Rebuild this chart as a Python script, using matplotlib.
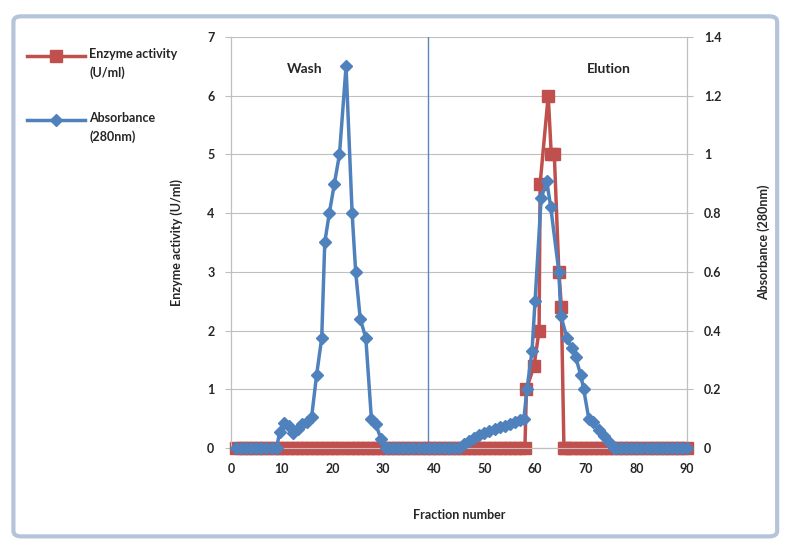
import numpy as np
from matplotlib import pyplot as plt
from matplotlib.patches import FancyBboxPatch
from matplotlib.lines import Line2D

# enzyme activity (U/ml), left axis
enz_frac = list(range(1, 59)) + [58.3, 59.8, 60.8, 61.0, 62.6, 63.2, 63.8, 64.7, 65.2, 65.7] + list(range(66, 91))
enz_act = [0] * 58 + [1.0, 1.4, 2.0, 4.5, 6.0, 5.0, 5.0, 3.0, 2.4, 0] + [0] * 25

# absorbance at 280 nm, right axis
abs_frac = (list(range(1, 10))
            + [9.6, 10.5, 11.4, 12.3, 13.2, 14.1, 15.0, 15.9, 16.9, 17.9, 18.5, 19.4, 20.4,
               21.4, 22.7, 23.9, 24.6, 25.5, 26.6, 27.7, 28.6, 29.6, 30.5]
            + list(range(31, 46))
            + [46, 47, 48, 49, 50, 51, 52, 53, 54, 55, 56, 57, 57.8, 58.4, 59.4, 60.0, 61.2,
               62.3, 63.1, 64.7, 65.1, 66.3, 67.2, 68.0, 69.0, 69.6, 70.6, 71.5, 72.6, 73.6,
               74.6, 75.6]
            + list(range(76, 91)))
abs_val = ([0] * 9
           + [0.055, 0.085, 0.075, 0.05, 0.065, 0.08, 0.09, 0.105, 0.25, 0.375, 0.7, 0.8, 0.9,
              1.0, 1.3, 0.8, 0.6, 0.44, 0.375, 0.1, 0.08, 0.03, 0.0]
           + [0] * 15
           + [0.012, 0.025, 0.035, 0.043, 0.05, 0.057, 0.064, 0.07, 0.076, 0.082, 0.088, 0.094,
              0.1, 0.2, 0.33, 0.5, 0.85, 0.91, 0.82, 0.6, 0.45, 0.375, 0.34, 0.31, 0.25, 0.2,
              0.1, 0.09, 0.06, 0.04, 0.02, 0.0]
           + [0] * 15)

left_ticks = [0, 1, 2, 3, 4, 5, 6, 7]
right_ticks = [0, 0.2, 0.4, 0.6, 0.8, 1, 1.2, 1.4]
x_ticks = [0, 10, 20, 30, 40, 50, 60, 70, 80, 90]
legend_labels = ['Enzyme activity\n(U/ml)', 'Absorbance\n(280nm)']

red = '#C0504D'
blue = '#4F81BD'
txt = '#262626'
plt.rcParams['font.family'] = ['Lato', 'DejaVu Sans']
plt.rcParams['font.weight'] = 'bold'
plt.rcParams['axes.labelweight'] = 'bold'

W, H = 789, 544
fig = plt.figure(figsize=(W / 100, H / 100), dpi=100)
fig.patches.append(FancyBboxPatch((0.017, 0.014), 0.968, 0.956, boxstyle='round,pad=0,rounding_size=0.01',
                                  transform=fig.transFigure, facecolor='none', edgecolor='#B4C4D9', lw=3))

ax = fig.add_axes([0.2928, 0.1765, 0.578, 0.7555])
ax2 = ax.twinx()

ax.plot(enz_frac, enz_act, color=red, lw=2.5, marker='s', ms=8.5, clip_on=False, zorder=3)
ax2.plot(abs_frac, abs_val, color=blue, lw=2.5, marker='D', ms=6, clip_on=False, zorder=3)
ax.axvline(38.9, color='#5B86B8', lw=1)

ax.set_xlim(0, 90)
ax.set_ylim(0, 7)
ax2.set_ylim(0, 1.4)
ax.set_xticks(x_ticks)
ax.set_yticks(left_ticks)
ax2.set_yticks(right_ticks)
ax2.set_yticklabels(['0', '0.2', '0.4', '0.6', '0.8', '1', '1.2', '1.4'])
ax.grid(axis='y', color='#BFBFBF', lw=0.8)
ax.set_axisbelow(True)

for a in (ax, ax2):
    a.spines['top'].set_visible(False)
    a.spines['bottom'].set_color('#BFBFBF')
    a.spines['left'].set_color('#BFBFBF')
    a.spines['right'].set_color('#BFBFBF')
    a.tick_params(labelsize=9, labelcolor=txt, color='#BFBFBF', length=4)
ax.tick_params(axis='x', length=0, pad=11)
ax.tick_params(axis='y', pad=8)
ax2.tick_params(axis='y', pad=8)

ax.set_xlabel('Fraction number', fontsize=9, color=txt, labelpad=24)
ax.set_ylabel('Enzyme activity (U/ml)', fontsize=9, color=txt, labelpad=17)
ax2.set_ylabel('Absorbance (280nm)', fontsize=9, color=txt, labelpad=26)

ax.text(14.5, 6.45, 'Wash', fontsize=10, color=txt, ha='center', va='center')
ax.text(74.5, 6.45, 'Elution', fontsize=10, color=txt, ha='center', va='center')

# legend drawn by hand: handle sits level with the first text line
styles = [dict(color=red, lw=2.5, marker='s', ms=8.5), dict(color=blue, lw=2.5, marker='D', ms=6)]
for i, (lab, st) in enumerate(zip(legend_labels, styles)):
    y = 1 - (56 + 64 * i) / H
    fig.add_artist(Line2D([27 / W, 56 / W, 85 / W], [y, y, y], transform=fig.transFigure,
                          markevery=[1], **st))
    fig.text(89 / W, 1 - (48 + 64 * i) / H, lab, fontsize=9, color=txt, ha='left', va='top',
             transform=fig.transFigure, linespacing=1.6)

fig.savefig('out.png', dpi=100)
